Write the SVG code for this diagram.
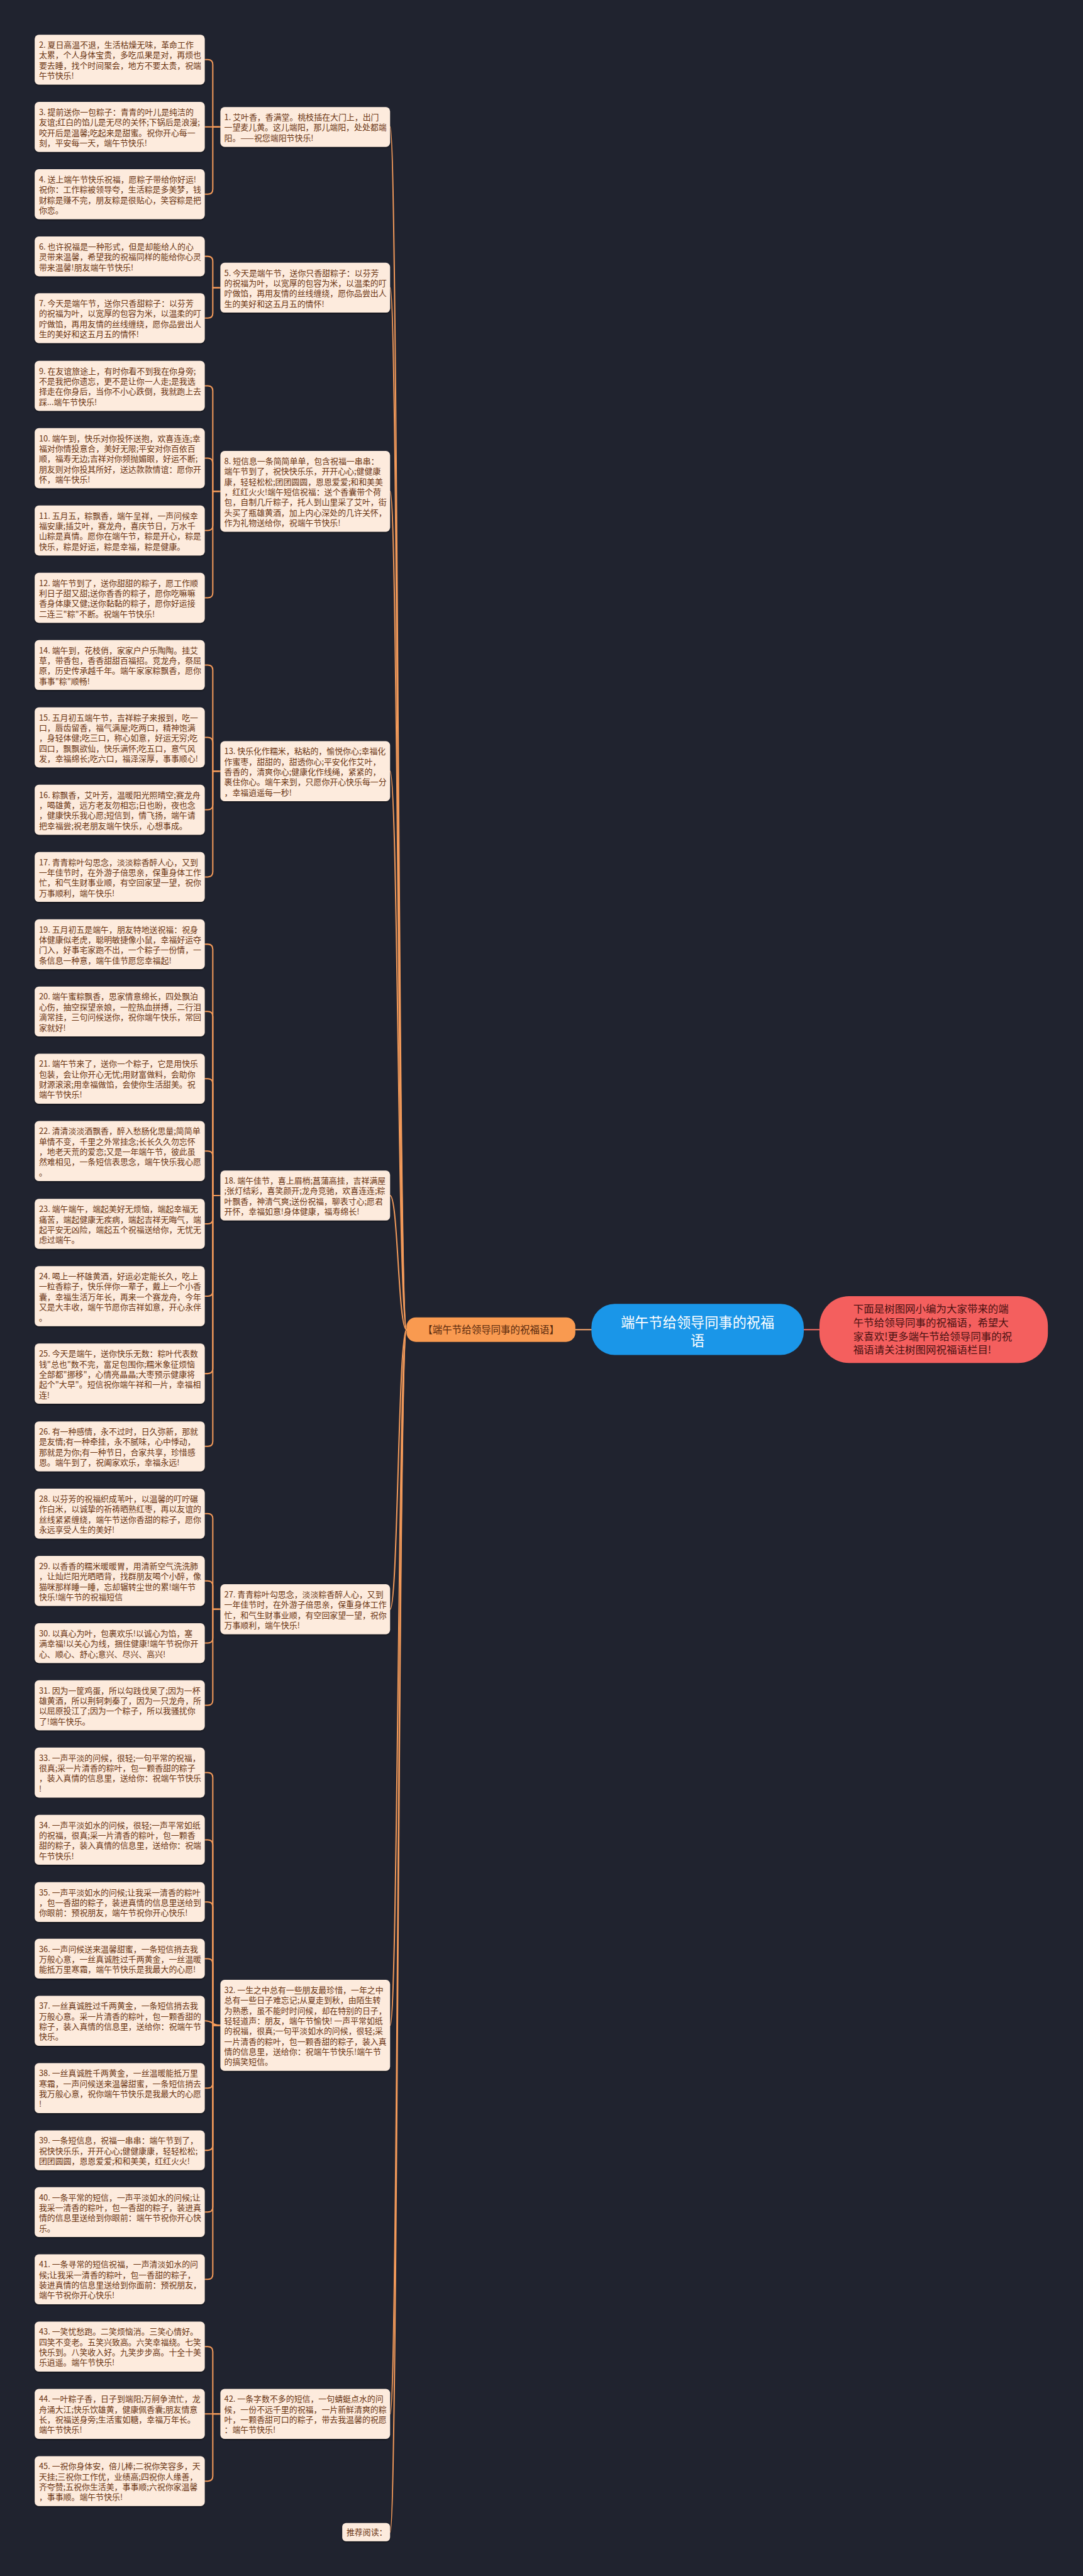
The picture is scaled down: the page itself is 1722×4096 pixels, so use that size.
<svg xmlns="http://www.w3.org/2000/svg" width="1722" height="4096" viewBox="0 0 1722 4096">
<defs>
<filter id="ds" x="-5%" y="-10%" width="110%" height="125%"><feDropShadow dx="0" dy="2" stdDeviation="1.5" flood-color="#000" flood-opacity="0.55"/></filter>
</defs>
<style>
.bg{fill:#20232f}
.nd rect{fill:#fdebdd;filter:url(#ds)}
.nd text{font-family:"Noto Sans CJK SC","Noto Sans",sans-serif;font-size:19.2px;fill:#6b3512}
.conn path{fill:none;stroke:#f39a5a;stroke-width:3;stroke-linecap:round}
.main text{font-family:"Noto Sans CJK SC","Noto Sans",sans-serif}
</style>
<rect class="bg" x="0" y="0" width="1722" height="4096"/>
<g transform="scale(0.67266)">
<g id="connectors" class="conn">
<path d="M1937 3143 H1900" style="stroke:#ee6b62"/>
<path d="M1398 3143 H1360" style="stroke:#f5a46c"/>
<path d="M961 3143 C941 3143 941 300 922 300"/>
<path d="M961 3143 C941 3143 941 680 922 680"/>
<path d="M961 3143 C941 3143 941 1161.5 922 1161.5"/>
<path d="M961 3143 C941 3143 941 1823 922 1823"/>
<path d="M961 3143 C941 3143 941 2826 922 2826"/>
<path d="M961 3143 C941 3143 941 3804 922 3804"/>
<path d="M961 3143 C941 3143 941 4787.5 922 4787.5"/>
<path d="M961 3143 C941 3143 941 5706 922 5706"/>
<path d="M961 3143 C941 3143 941 5985.5 922 5985.5"/>
<path d="M521 300 H503 V153 Q503 141 491 141 H484"/>
<path d="M521 300 H484"/>
<path d="M521 300 H503 V447 Q503 459 491 459 H484"/>
<path d="M521 680 H503 V618 Q503 606 491 606 H484"/>
<path d="M521 680 H503 V740 Q503 752 491 752 H484"/>
<path d="M521 1161.5 H503 V924 Q503 912 491 912 H484"/>
<path d="M521 1161.5 H503 V1095 Q503 1083 491 1083 H484"/>
<path d="M521 1161.5 H503 V1242 Q503 1254 491 1254 H484"/>
<path d="M521 1161.5 H503 V1401 Q503 1413 491 1413 H484"/>
<path d="M521 1823 H503 V1584 Q503 1572 491 1572 H484"/>
<path d="M521 1823 H503 V1755 Q503 1743 491 1743 H484"/>
<path d="M521 1823 H503 V1902 Q503 1914 491 1914 H484"/>
<path d="M521 1823 H503 V2061 Q503 2073 491 2073 H484"/>
<path d="M521 2826 H503 V2244 Q503 2232 491 2232 H484"/>
<path d="M521 2826 H503 V2403 Q503 2391 491 2391 H484"/>
<path d="M521 2826 H503 V2562 Q503 2550 491 2550 H484"/>
<path d="M521 2826 H503 V2733 Q503 2721 491 2721 H484"/>
<path d="M521 2826 H503 V2881 Q503 2893 491 2893 H484"/>
<path d="M521 2826 H503 V3052 Q503 3064 491 3064 H484"/>
<path d="M521 2826 H503 V3235 Q503 3247 491 3247 H484"/>
<path d="M521 2826 H503 V3407 Q503 3419 491 3419 H484"/>
<path d="M521 3804 H503 V3590 Q503 3578 491 3578 H484"/>
<path d="M521 3804 H503 V3749 Q503 3737 491 3737 H484"/>
<path d="M521 3804 H503 V3872 Q503 3884 491 3884 H484"/>
<path d="M521 3804 H503 V4019 Q503 4031 491 4031 H484"/>
<path d="M521 4787.5 H503 V4202 Q503 4190 491 4190 H484"/>
<path d="M521 4787.5 H503 V4361 Q503 4349 491 4349 H484"/>
<path d="M521 4787.5 H503 V4508 Q503 4496 491 4496 H484"/>
<path d="M521 4787.5 H503 V4642 Q503 4630 491 4630 H484"/>
<path d="M521 4787.5 C500 4787.5 505 4777 484 4777"/>
<path d="M521 4787.5 H503 V4924 Q503 4936 491 4936 H484"/>
<path d="M521 4787.5 H503 V5071 Q503 5083 491 5083 H484"/>
<path d="M521 4787.5 H503 V5217 Q503 5229 491 5229 H484"/>
<path d="M521 4787.5 H503 V5376 Q503 5388 491 5388 H484"/>
<path d="M521 5706 H503 V5559 Q503 5547 491 5547 H484"/>
<path d="M521 5706 H484"/>
<path d="M521 5706 H503 V5853 Q503 5865 491 5865 H484"/>
</g>

<g id="center" class="main"><rect x="1398" y="3082" width="502" height="121" rx="55" fill="#1a96e8"/><text x="1649" y="3138" text-anchor="middle" font-size="33" fill="#ffffff"><tspan x="1649">端午节给领导同事的祝福</tspan><tspan x="1649" dy="43">语</tspan></text></g>
<g id="intro" class="main"><rect x="1937" y="3064" width="540" height="158" rx="70" fill="#f45f5e"/><text x="2017" y="3103" font-size="24.5" fill="#4a1212"><tspan x="2017">下面是树图网小编为大家带来的端</tspan><tspan x="2017" dy="32.3">午节给领导同事的祝福语，希望大</tspan><tspan x="2017" dy="32.3">家喜欢!更多端午节给领导同事的祝</tspan><tspan x="2017" dy="32.3">福语请关注树图网祝福语栏目!</tspan></text></g>
<g id="branch" class="main"><rect x="961" y="3114" width="399" height="58" rx="22" fill="#f99a50"/><text x="1160.5" y="3151" text-anchor="middle" font-size="23" fill="#5a2a0e">【端午节给领导同事的祝福语】</text></g>

<g id="n1" class="nd"><rect x="521" y="253" width="401" height="94" rx="10"/><text x="530" y="284"><tspan x="530">1. 艾叶香，香满堂。桃枝插在大门上，出门</tspan><tspan x="530" dy="24.3">一望麦儿黄。这儿端阳，那儿端阳，处处都端</tspan><tspan x="530" dy="24.3">阳。——祝您端阳节快乐!</tspan></text></g>
<g id="n2" class="nd"><rect x="82" y="82" width="402" height="118" rx="10"/><text x="92" y="113"><tspan x="92">2. 夏日高温不退，生活枯燥无味，革命工作</tspan><tspan x="92" dy="24.3">太累，个人身体宝贵，多吃瓜果是对，再烦也</tspan><tspan x="92" dy="24.3">要去睡，找个时间聚会，地方不要太贵，祝端</tspan><tspan x="92" dy="24.3">午节快乐!</tspan></text></g>
<g id="n3" class="nd"><rect x="82" y="241" width="402" height="118" rx="10"/><text x="92" y="272"><tspan x="92">3. 提前送你一包粽子：青青的叶儿是纯洁的</tspan><tspan x="92" dy="24.3">友谊;红白的馅儿是无尽的关怀;下锅后是浪漫;</tspan><tspan x="92" dy="24.3">咬开后是温馨;吃起来是甜蜜。祝你开心每一</tspan><tspan x="92" dy="24.3">刻，平安每一天，端午节快乐!</tspan></text></g>
<g id="n4" class="nd"><rect x="82" y="400" width="402" height="118" rx="10"/><text x="92" y="431"><tspan x="92">4. 送上端午节快乐祝福，愿粽子带给你好运!</tspan><tspan x="92" dy="24.3">祝你：工作粽被领导夸，生活粽是多美梦，钱</tspan><tspan x="92" dy="24.3">财粽是赚不完，朋友粽是很贴心，笑容粽是把</tspan><tspan x="92" dy="24.3">你恋。</tspan></text></g>
<g id="n5" class="nd"><rect x="521" y="621" width="401" height="118" rx="10"/><text x="530" y="652"><tspan x="530">5. 今天是端午节，送你只香甜粽子：以芬芳</tspan><tspan x="530" dy="24.3">的祝福为叶，以宽厚的包容为米，以温柔的叮</tspan><tspan x="530" dy="24.3">咛做馅，再用友情的丝线缠绕，愿你品尝出人</tspan><tspan x="530" dy="24.3">生的美好和这五月五的情怀!</tspan></text></g>
<g id="n6" class="nd"><rect x="82" y="559" width="402" height="94" rx="10"/><text x="92" y="590"><tspan x="92">6. 也许祝福是一种形式，但是却能给人的心</tspan><tspan x="92" dy="24.3">灵带来温馨，希望我的祝福同样的能给你心灵</tspan><tspan x="92" dy="24.3">带来温馨!朋友端午节快乐!</tspan></text></g>
<g id="n7" class="nd"><rect x="82" y="693" width="402" height="118" rx="10"/><text x="92" y="724"><tspan x="92">7. 今天是端午节，送你只香甜粽子：以芬芳</tspan><tspan x="92" dy="24.3">的祝福为叶，以宽厚的包容为米，以温柔的叮</tspan><tspan x="92" dy="24.3">咛做馅，再用友情的丝线缠绕，愿你品尝出人</tspan><tspan x="92" dy="24.3">生的美好和这五月五的情怀!</tspan></text></g>
<g id="n8" class="nd"><rect x="521" y="1066" width="401" height="191" rx="10"/><text x="530" y="1097"><tspan x="530">8. 短信息一条简简单单，包含祝福一串串：</tspan><tspan x="530" dy="24.3">端午节到了，祝快快乐乐，开开心心;健健康</tspan><tspan x="530" dy="24.3">康，轻轻松松;团团圆圆，恩恩爱爱;和和美美</tspan><tspan x="530" dy="24.3">，红红火火!端午短信祝福：送个香囊带个荷</tspan><tspan x="530" dy="24.3">包，自制几斤粽子，托人到山里采了艾叶，街</tspan><tspan x="530" dy="24.3">头买了瓶雄黄酒，加上内心深处的几许关怀，</tspan><tspan x="530" dy="24.3">作为礼物送给你，祝端午节快乐!</tspan></text></g>
<g id="n9" class="nd"><rect x="82" y="853" width="402" height="118" rx="10"/><text x="92" y="884"><tspan x="92">9. 在友谊旅途上，有时你看不到我在你身旁;</tspan><tspan x="92" dy="24.3">不是我把你遗忘，更不是让你一人走;是我选</tspan><tspan x="92" dy="24.3">择走在你身后，当你不小心跌倒，我就跑上去</tspan><tspan x="92" dy="24.3">踩...端午节快乐!</tspan></text></g>
<g id="n10" class="nd"><rect x="82" y="1012" width="402" height="142" rx="10"/><text x="92" y="1043"><tspan x="92">10. 端午到，快乐对你投怀送抱，欢喜连连;幸</tspan><tspan x="92" dy="24.3">福对你情投意合，美好无限;平安对你百依百</tspan><tspan x="92" dy="24.3">顺，福寿无边;吉祥对你频抛媚眼，好运不断;</tspan><tspan x="92" dy="24.3">朋友则对你投其所好，送达款款情谊：愿你开</tspan><tspan x="92" dy="24.3">怀，端午快乐!</tspan></text></g>
<g id="n11" class="nd"><rect x="82" y="1195" width="402" height="118" rx="10"/><text x="92" y="1226"><tspan x="92">11. 五月五，粽飘香，端午呈祥，一声问候幸</tspan><tspan x="92" dy="24.3">福安康;插艾叶，赛龙舟，喜庆节日，万水千</tspan><tspan x="92" dy="24.3">山粽是真情。愿你在端午节，粽是开心，粽是</tspan><tspan x="92" dy="24.3">快乐，粽是好运，粽是幸福，粽是健康。</tspan></text></g>
<g id="n12" class="nd"><rect x="82" y="1354" width="402" height="118" rx="10"/><text x="92" y="1385"><tspan x="92">12. 端午节到了，送你甜甜的粽子，愿工作顺</tspan><tspan x="92" dy="24.3">利日子甜又甜;送你香香的粽子，愿你吃嘛嘛</tspan><tspan x="92" dy="24.3">香身体康又健;送你黏黏的粽子，愿你好运接</tspan><tspan x="92" dy="24.3">二连三"粽"不断。祝端午节快乐!</tspan></text></g>
<g id="n13" class="nd"><rect x="521" y="1752" width="401" height="142" rx="10"/><text x="530" y="1783"><tspan x="530">13. 快乐化作糯米，粘粘的，愉悦你心;幸福化</tspan><tspan x="530" dy="24.3">作蜜枣，甜甜的，甜透你心;平安化作艾叶，</tspan><tspan x="530" dy="24.3">香香的，清爽你心;健康化作线绳，紧紧的，</tspan><tspan x="530" dy="24.3">裹住你心。端午来到，只愿你开心快乐每一分</tspan><tspan x="530" dy="24.3">，幸福逍遥每一秒!</tspan></text></g>
<g id="n14" class="nd"><rect x="82" y="1513" width="402" height="118" rx="10"/><text x="92" y="1544"><tspan x="92">14. 端午到，花枝俏，家家户户乐陶陶。挂艾</tspan><tspan x="92" dy="24.3">草，带香包，香香甜甜百福招。竞龙舟，祭屈</tspan><tspan x="92" dy="24.3">原，历史传承越千年。端午家家粽飘香，愿你</tspan><tspan x="92" dy="24.3">事事"粽"顺畅!</tspan></text></g>
<g id="n15" class="nd"><rect x="82" y="1672" width="402" height="142" rx="10"/><text x="92" y="1703"><tspan x="92">15. 五月初五端午节，吉祥粽子来报到，吃一</tspan><tspan x="92" dy="24.3">口，唇齿留香，福气满屋;吃两口，精神饱满</tspan><tspan x="92" dy="24.3">，身轻体健;吃三口，称心如意，好运无穷;吃</tspan><tspan x="92" dy="24.3">四口，飘飘欲仙，快乐满怀;吃五口，意气风</tspan><tspan x="92" dy="24.3">发，幸福绵长;吃六口，福泽深厚，事事顺心!</tspan></text></g>
<g id="n16" class="nd"><rect x="82" y="1855" width="402" height="118" rx="10"/><text x="92" y="1886"><tspan x="92">16. 粽飘香，艾叶芳，温暖阳光照晴空;赛龙舟</tspan><tspan x="92" dy="24.3">，喝雄黄，远方老友勿相忘;日也盼，夜也念</tspan><tspan x="92" dy="24.3">，健康快乐我心愿;短信到，情飞扬，端午请</tspan><tspan x="92" dy="24.3">把幸福尝;祝老朋友端午快乐，心想事成。</tspan></text></g>
<g id="n17" class="nd"><rect x="82" y="2014" width="402" height="118" rx="10"/><text x="92" y="2045"><tspan x="92">17. 青青粽叶勾思念，淡淡粽香醉人心，又到</tspan><tspan x="92" dy="24.3">一年佳节时，在外游子倍思亲，保重身体工作</tspan><tspan x="92" dy="24.3">忙，和气生财事业顺，有空回家望一望，祝你</tspan><tspan x="92" dy="24.3">万事顺利，端午快乐!</tspan></text></g>
<g id="n18" class="nd"><rect x="521" y="2767" width="401" height="118" rx="10"/><text x="530" y="2798"><tspan x="530">18. 端午佳节，喜上眉梢;菖蒲高挂，吉祥满屋</tspan><tspan x="530" dy="24.3">;张灯结彩，喜笑颜开;龙舟竞驰，欢喜连连;粽</tspan><tspan x="530" dy="24.3">叶飘香，神清气爽;送份祝福，聊表寸心;愿君</tspan><tspan x="530" dy="24.3">开怀，幸福如意!身体健康，福寿绵长!</tspan></text></g>
<g id="n19" class="nd"><rect x="82" y="2173" width="402" height="118" rx="10"/><text x="92" y="2204"><tspan x="92">19. 五月初五是端午，朋友特地送祝福：祝身</tspan><tspan x="92" dy="24.3">体健康似老虎，聪明敏捷像小鼠，幸福好运夺</tspan><tspan x="92" dy="24.3">门入，好事宅家跑不出，一个粽子一份情，一</tspan><tspan x="92" dy="24.3">条信息一种意，端午佳节愿您幸福起!</tspan></text></g>
<g id="n20" class="nd"><rect x="82" y="2332" width="402" height="118" rx="10"/><text x="92" y="2363"><tspan x="92">20. 端午蜜粽飘香，思家情意绵长，四处飘泊</tspan><tspan x="92" dy="24.3">心伤，抽空探望亲娘，一腔热血拼搏，二行泪</tspan><tspan x="92" dy="24.3">滴常挂，三句问候送你，祝你端午快乐，常回</tspan><tspan x="92" dy="24.3">家就好!</tspan></text></g>
<g id="n21" class="nd"><rect x="82" y="2491" width="402" height="118" rx="10"/><text x="92" y="2522"><tspan x="92">21. 端午节来了，送你一个粽子，它是用快乐</tspan><tspan x="92" dy="24.3">包装，会让你开心无忧;用财富做料，会助你</tspan><tspan x="92" dy="24.3">财源滚滚;用幸福做馅，会使你生活甜美。祝</tspan><tspan x="92" dy="24.3">端午节快乐!</tspan></text></g>
<g id="n22" class="nd"><rect x="82" y="2650" width="402" height="142" rx="10"/><text x="92" y="2681"><tspan x="92">22. 清清淡淡酒飘香，醉入愁肠化思量;简简单</tspan><tspan x="92" dy="24.3">单情不变，千里之外常挂念;长长久久勿忘怀</tspan><tspan x="92" dy="24.3">，地老天荒的爱恋;又是一年端午节，彼此虽</tspan><tspan x="92" dy="24.3">然难相见，一条短信表思念，端午快乐我心愿</tspan><tspan x="92" dy="24.3">。</tspan></text></g>
<g id="n23" class="nd"><rect x="82" y="2834" width="402" height="118" rx="10"/><text x="92" y="2865"><tspan x="92">23. 端午端午，端起美好无烦恼，端起幸福无</tspan><tspan x="92" dy="24.3">痛苦，端起健康无疾病，端起吉祥无晦气，端</tspan><tspan x="92" dy="24.3">起平安无凶险，端起五个祝福送给你，无忧无</tspan><tspan x="92" dy="24.3">虑过端午。</tspan></text></g>
<g id="n24" class="nd"><rect x="82" y="2993" width="402" height="142" rx="10"/><text x="92" y="3024"><tspan x="92">24. 喝上一杯雄黄酒，好运必定能长久，吃上</tspan><tspan x="92" dy="24.3">一粒香粽子，快乐伴你一辈子，戴上一个小香</tspan><tspan x="92" dy="24.3">囊，幸福生活万年长，再来一个赛龙舟，今年</tspan><tspan x="92" dy="24.3">又是大丰收，端午节愿你吉祥如意，开心永伴</tspan><tspan x="92" dy="24.3">。</tspan></text></g>
<g id="n25" class="nd"><rect x="82" y="3176" width="402" height="142" rx="10"/><text x="92" y="3207"><tspan x="92">25. 今天是端午，送你快乐无数：粽叶代表数</tspan><tspan x="92" dy="24.3">钱"总也"数不完，富足包围你;糯米象征烦恼</tspan><tspan x="92" dy="24.3">全部都"挪移"，心情亮晶晶;大枣预示健康将</tspan><tspan x="92" dy="24.3">起个"大早"。短信祝你端午祥和一片，幸福相</tspan><tspan x="92" dy="24.3">连!</tspan></text></g>
<g id="n26" class="nd"><rect x="82" y="3360" width="402" height="118" rx="10"/><text x="92" y="3391"><tspan x="92">26. 有一种感情，永不过时，日久弥新，那就</tspan><tspan x="92" dy="24.3">是友情;有一种牵挂，永不腻味，心中悸动，</tspan><tspan x="92" dy="24.3">那就是为你;有一种节日，合家共享，珍惜感</tspan><tspan x="92" dy="24.3">恩。端午到了，祝阖家欢乐，幸福永远!</tspan></text></g>
<g id="n27" class="nd"><rect x="521" y="3745" width="401" height="118" rx="10"/><text x="530" y="3776"><tspan x="530">27. 青青粽叶勾思念，淡淡粽香醉人心，又到</tspan><tspan x="530" dy="24.3">一年佳节时，在外游子倍思亲，保重身体工作</tspan><tspan x="530" dy="24.3">忙，和气生财事业顺，有空回家望一望，祝你</tspan><tspan x="530" dy="24.3">万事顺利，端午快乐!</tspan></text></g>
<g id="n28" class="nd"><rect x="82" y="3519" width="402" height="118" rx="10"/><text x="92" y="3550"><tspan x="92">28. 以芬芳的祝福织成苇叶，以温馨的叮咛碾</tspan><tspan x="92" dy="24.3">作白米，以诚挚的祈祷晒熟红枣，再以友谊的</tspan><tspan x="92" dy="24.3">丝线紧紧缠绕，端午节送你香甜的粽子，愿你</tspan><tspan x="92" dy="24.3">永远享受人生的美好!</tspan></text></g>
<g id="n29" class="nd"><rect x="82" y="3678" width="402" height="118" rx="10"/><text x="92" y="3709"><tspan x="92">29. 以香香的糯米暖暖胃，用清新空气洗洗肺</tspan><tspan x="92" dy="24.3">，让灿烂阳光晒晒背，找群朋友喝个小醉，像</tspan><tspan x="92" dy="24.3">猫咪那样睡一睡，忘却辗转尘世的累!端午节</tspan><tspan x="92" dy="24.3">快乐!端午节的祝福短信</tspan></text></g>
<g id="n30" class="nd"><rect x="82" y="3837" width="402" height="94" rx="10"/><text x="92" y="3868"><tspan x="92">30. 以真心为叶，包裹欢乐!以诚心为馅，塞</tspan><tspan x="92" dy="24.3">满幸福!以关心为线，捆住健康!端午节祝你开</tspan><tspan x="92" dy="24.3">心、顺心、舒心;意兴、尽兴、高兴!</tspan></text></g>
<g id="n31" class="nd"><rect x="82" y="3972" width="402" height="118" rx="10"/><text x="92" y="4003"><tspan x="92">31. 因为一筐鸡蛋，所以勾践伐吴了;因为一杯</tspan><tspan x="92" dy="24.3">雄黄酒，所以荆轲刺秦了，因为一只龙舟，所</tspan><tspan x="92" dy="24.3">以屈原投江了;因为一个粽子，所以我骚扰你</tspan><tspan x="92" dy="24.3">了!端午快乐。</tspan></text></g>
<g id="n32" class="nd"><rect x="521" y="4680" width="401" height="215" rx="10"/><text x="530" y="4711"><tspan x="530">32. 一生之中总有一些朋友最珍惜，一年之中</tspan><tspan x="530" dy="24.3">总有一些日子难忘记;从夏走到秋，由陌生转</tspan><tspan x="530" dy="24.3">为熟悉，虽不能时时问候，却在特别的日子，</tspan><tspan x="530" dy="24.3">轻轻道声：朋友，端午节愉快! 一声平常如纸</tspan><tspan x="530" dy="24.3">的祝福，很真;一句平淡如水的问候，很轻;采</tspan><tspan x="530" dy="24.3">一片清香的粽叶，包一颗香甜的粽子，装入真</tspan><tspan x="530" dy="24.3">情的信息里，送给你：祝端午节快乐!端午节</tspan><tspan x="530" dy="24.3">的搞笑短信。</tspan></text></g>
<g id="n33" class="nd"><rect x="82" y="4131" width="402" height="118" rx="10"/><text x="92" y="4162"><tspan x="92">33. 一声平淡的问候，很轻;一句平常的祝福，</tspan><tspan x="92" dy="24.3">很真;采一片清香的粽叶，包一颗香甜的粽子</tspan><tspan x="92" dy="24.3">，装入真情的信息里，送给你：祝端午节快乐</tspan><tspan x="92" dy="24.3">!</tspan></text></g>
<g id="n34" class="nd"><rect x="82" y="4290" width="402" height="118" rx="10"/><text x="92" y="4321"><tspan x="92">34. 一声平淡如水的问候，很轻;一声平常如纸</tspan><tspan x="92" dy="24.3">的祝福，很真;采一片清香的粽叶，包一颗香</tspan><tspan x="92" dy="24.3">甜的粽子，装入真情的信息里，送给你：祝端</tspan><tspan x="92" dy="24.3">午节快乐!</tspan></text></g>
<g id="n35" class="nd"><rect x="82" y="4449" width="402" height="94" rx="10"/><text x="92" y="4480"><tspan x="92">35. 一声平淡如水的问候;让我采一清香的粽叶</tspan><tspan x="92" dy="24.3">，包一香甜的粽子，装进真情的信息里送给到</tspan><tspan x="92" dy="24.3">你眼前：预祝朋友，端午节祝你开心快乐!</tspan></text></g>
<g id="n36" class="nd"><rect x="82" y="4583" width="402" height="94" rx="10"/><text x="92" y="4614"><tspan x="92">36. 一声问候送来温馨甜蜜，一条短信捎去我</tspan><tspan x="92" dy="24.3">万般心意，一丝真诚胜过千两黄金，一丝温暖</tspan><tspan x="92" dy="24.3">能抵万里寒霜，端午节快乐是我最大的心愿!</tspan></text></g>
<g id="n37" class="nd"><rect x="82" y="4718" width="402" height="118" rx="10"/><text x="92" y="4749"><tspan x="92">37. 一丝真诚胜过千两黄金，一条短信捎去我</tspan><tspan x="92" dy="24.3">万般心意。采一片清香的粽叶，包一颗香甜的</tspan><tspan x="92" dy="24.3">粽子，装入真情的信息里，送给你：祝端午节</tspan><tspan x="92" dy="24.3">快乐。</tspan></text></g>
<g id="n38" class="nd"><rect x="82" y="4877" width="402" height="118" rx="10"/><text x="92" y="4908"><tspan x="92">38. 一丝真诚胜千两黄金，一丝温暖能抵万里</tspan><tspan x="92" dy="24.3">寒霜，一声问候送来温馨甜蜜，一条短信捎去</tspan><tspan x="92" dy="24.3">我万般心意，祝你端午节快乐是我最大的心愿</tspan><tspan x="92" dy="24.3">!</tspan></text></g>
<g id="n39" class="nd"><rect x="82" y="5036" width="402" height="94" rx="10"/><text x="92" y="5067"><tspan x="92">39. 一条短信息，祝福一串串：端午节到了，</tspan><tspan x="92" dy="24.3">祝快快乐乐，开开心心;健健康康，轻轻松松;</tspan><tspan x="92" dy="24.3">团团圆圆，恩恩爱爱;和和美美，红红火火!</tspan></text></g>
<g id="n40" class="nd"><rect x="82" y="5170" width="402" height="118" rx="10"/><text x="92" y="5201"><tspan x="92">40. 一条平常的短信，一声平淡如水的问候;让</tspan><tspan x="92" dy="24.3">我采一清香的粽叶，包一香甜的粽子，装进真</tspan><tspan x="92" dy="24.3">情的信息里送给到你眼前：端午节祝你开心快</tspan><tspan x="92" dy="24.3">乐。</tspan></text></g>
<g id="n41" class="nd"><rect x="82" y="5329" width="402" height="118" rx="10"/><text x="92" y="5360"><tspan x="92">41. 一条寻常的短信祝福，一声清淡如水的问</tspan><tspan x="92" dy="24.3">候;让我采一清香的粽叶，包一香甜的粽子，</tspan><tspan x="92" dy="24.3">装进真情的信息里送给到你面前：预祝朋友，</tspan><tspan x="92" dy="24.3">端午节祝你开心快乐!</tspan></text></g>
<g id="n42" class="nd"><rect x="521" y="5647" width="401" height="118" rx="10"/><text x="530" y="5678"><tspan x="530">42. 一条字数不多的短信，一句蜻蜓点水的问</tspan><tspan x="530" dy="24.3">候，一份不远千里的祝福，一片新鲜清爽的粽</tspan><tspan x="530" dy="24.3">叶，一颗香甜可口的粽子，带去我温馨的祝愿</tspan><tspan x="530" dy="24.3">：端午节快乐!</tspan></text></g>
<g id="n43" class="nd"><rect x="82" y="5488" width="402" height="118" rx="10"/><text x="92" y="5519"><tspan x="92">43. 一笑忧愁跑。二笑烦恼消。三笑心情好。</tspan><tspan x="92" dy="24.3">四笑不变老。五笑兴致高。六笑幸福绕。七笑</tspan><tspan x="92" dy="24.3">快乐到。八笑收入好。九笑步步高。十全十美</tspan><tspan x="92" dy="24.3">乐逍遥。端午节快乐!</tspan></text></g>
<g id="n44" class="nd"><rect x="82" y="5647" width="402" height="118" rx="10"/><text x="92" y="5678"><tspan x="92">44. 一叶粽子香，日子到端阳;万舸争流忙，龙</tspan><tspan x="92" dy="24.3">舟涌大江;快乐饮雄黄，健康佩香囊;朋友情意</tspan><tspan x="92" dy="24.3">长，祝福送身旁;生活蜜如糖，幸福万年长。</tspan><tspan x="92" dy="24.3">端午节快乐!</tspan></text></g>
<g id="n45" class="nd"><rect x="82" y="5806" width="402" height="118" rx="10"/><text x="92" y="5837"><tspan x="92">45. 一祝你身体安，倍儿棒;二祝你笑容多，天</tspan><tspan x="92" dy="24.3">天挂;三祝你工作优，业绩高;四祝你人缘善，</tspan><tspan x="92" dy="24.3">齐夸赞;五祝你生活美，事事顺;六祝你家温馨</tspan><tspan x="92" dy="24.3">，事事顺。端午节快乐!</tspan></text></g>
<g id="n46" class="nd"><rect x="809" y="5964" width="113" height="43" rx="9"/><text x="819" y="5993">推荐阅读：</text></g>
</g>
</svg>
